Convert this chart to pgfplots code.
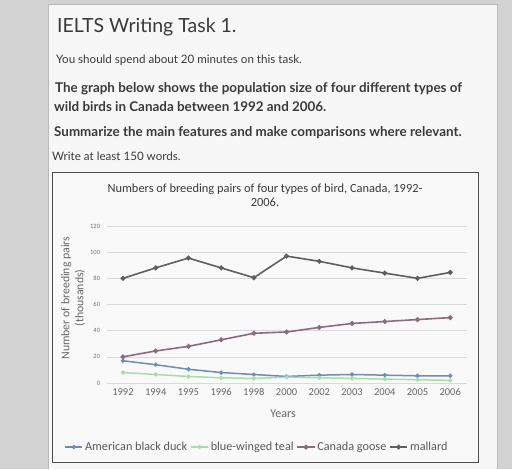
\documentclass[border=0pt]{standalone}
\usepackage{fontspec}
\setmainfont{Lato}
\newfontfamily\chartfont{Carlito}
\usepackage{pgfplots}
\pgfplotsset{compat=1.18}
\definecolor{mallardc}{HTML}{5E5E63}
\definecolor{goosec}{HTML}{8E6A80}
\definecolor{duckc}{HTML}{6A8CBE}
\definecolor{tealc}{HTML}{A8DDA8}
\definecolor{txt}{HTML}{3A3A3A}
\begin{document}
\begin{tikzpicture}[x=1pt,y=1pt]
\fill[gray!35] (0,0) rectangle (512,-469);
\fill[white!94!gray] (48,-4) rectangle (497,-469);
\draw[gray!55] (48,-469) -- (48,-4) -- (497,-4) -- (497,-469);
\node[anchor=west,font=\fontsize{19.5}{22}\selectfont,text=txt,inner sep=0pt] at (57,-27) {IELTS Writing Task 1.};
\node[anchor=west,font=\fontsize{11.6}{13}\selectfont,text=txt,inner sep=0pt] at (56,-60) {You should spend about 20 minutes on this task.};
\node[anchor=west,font=\bfseries\fontsize{13.4}{15}\selectfont,text=txt,inner sep=0pt] at (55,-89) {The graph below shows the population size of four different types of};
\node[anchor=west,font=\bfseries\fontsize{13.4}{15}\selectfont,text=txt,inner sep=0pt] at (54,-107) {wild birds in Canada between 1992 and 2006.};
\node[anchor=west,font=\bfseries\fontsize{13.4}{15}\selectfont,text=txt,inner sep=0pt] at (54,-133) {Summarize the main features and make comparisons where relevant.};
\node[anchor=west,font=\fontsize{11.6}{13}\selectfont,text=txt,inner sep=0pt] at (52,-156) {Write at least 150 words.};
\draw[black!70,line width=1pt,fill=white!95!gray] (52,-172) rectangle (478,-462);
\node[font=\chartfont\fontsize{12.4}{14.5}\selectfont,text=txt,align=center] at (265,-195) {Numbers of breeding pairs of four types of bird, Canada, 1992-\\2006.};
\node[font=\chartfont\fontsize{11.8}{14}\selectfont,text=black!60,align=center,rotate=90] at (73,-298) {Number of breeding pairs\\(thousands)};
\node[font=\chartfont\fontsize{12}{14}\selectfont,text=black!60] at (283,-414) {Years};
\begin{axis}[
  at={(106.6pt,-383pt)}, anchor=south west,
  scale only axis, width=360pt, height=157pt,
  xmin=-0.5, xmax=10.5, ymin=0, ymax=120,
  xtick={0,...,10},
  xticklabels={1992,1994,1995,1996,1998,2000,2002,2003,2004,2005,2006},
  ytick={0,20,...,120},
  ymajorgrids, grid style={gray!30, line width=0.6pt},
  axis line style={draw=none},
  major tick length=0pt,
  /pgf/number format/assume math mode=true,
  xticklabel style={font=\chartfont\fontsize{10.5}{12}\selectfont, text=black!60, yshift=-2pt},
  yticklabel style={font=\chartfont\fontsize{6.5}{7}\selectfont, text=black!55, xshift=-3pt},
  every axis plot/.append style={mark=*, mark size=1.6pt},
  legend style={at={(0.418,-0.408)}, anchor=center, draw=none, fill=none,
    font=\chartfont\fontsize{12.2}{14}\selectfont, text=black!65, legend columns=4,
    /tikz/every even column/.append style={column sep=1pt}},
  legend cell align=left,
]
\addplot[color=duckc, line width=1.5pt, mark size=1.3pt] coordinates {
 (0,17) (1,14) (2,10.5) (3,8) (4,6.5) (5,5) (6,6) (7,6.5) (8,6) (9,5.5) (10,5.5)};
\addlegendentry{American black duck}
\addplot[color=tealc, line width=1.5pt, mark size=1.3pt] coordinates {
 (0,8) (1,6.5) (2,5) (3,4) (4,3.5) (5,4.5) (6,4) (7,3.5) (8,3) (9,2.5) (10,2)};
\addlegendentry{blue-winged teal}
\addplot[color=goosec, line width=1.6pt] coordinates {
 (0,20) (1,24.5) (2,28) (3,33) (4,38) (5,39) (6,42.5) (7,45.5) (8,47) (9,48.5) (10,50)};
\addlegendentry{Canada goose}
\addplot[color=mallardc, line width=1.6pt] coordinates {
 (0,80) (1,88) (2,95.5) (3,88) (4,80.5) (5,97) (6,93) (7,88) (8,84) (9,80) (10,84.5)};
\addlegendentry{mallard}
\end{axis}
\end{tikzpicture}
\end{document}
